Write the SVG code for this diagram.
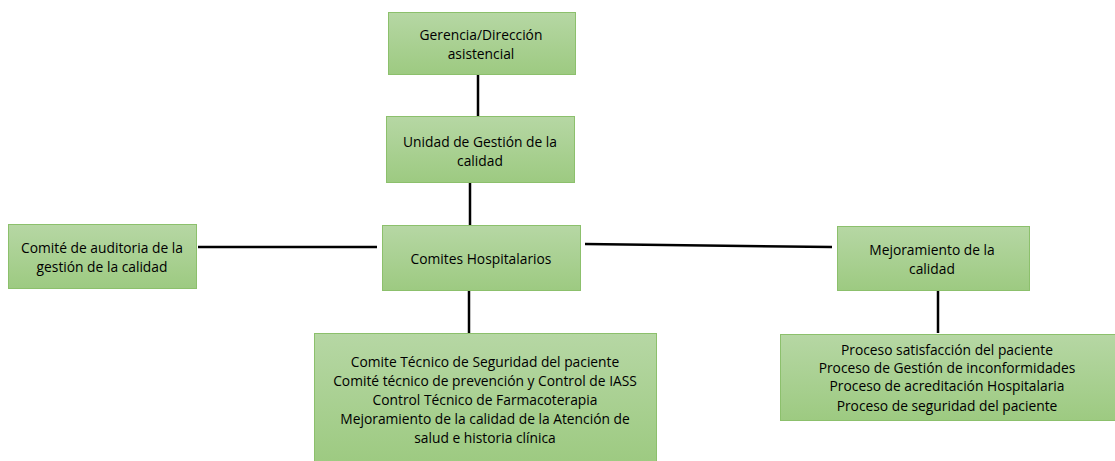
<svg xmlns="http://www.w3.org/2000/svg" width="1115" height="461" viewBox="0 0 1115 461">
<defs>
<linearGradient id="g" x1="0" y1="0" x2="0" y2="1">
<stop offset="0" stop-color="#b6d7a4"/>
<stop offset="1" stop-color="#9dca81"/>
</linearGradient>
<style>
.box{fill:url(#g);stroke:#8cc06c;stroke-width:1}
.t{font-family:"Open Sans","Liberation Sans",sans-serif;font-size:13.8px;fill:#000;text-anchor:middle}
.c{stroke:#000;stroke-width:2.5;fill:none}
</style>
</defs>
<rect width="1115" height="461" fill="#fff"/>
<g id="connectors">
<line class="c" x1="478" y1="74" x2="478" y2="116"/>
<line class="c" x1="470" y1="182" x2="470" y2="225"/>
<line class="c" x1="198" y1="247" x2="377" y2="247"/>
<line class="c" x1="585" y1="244" x2="832" y2="247"/>
<line class="c" x1="469" y1="290" x2="469" y2="333"/>
<line class="c" x1="938" y1="290" x2="938" y2="333"/>
</g>
<g id="gerencia">
<rect class="box" x="388.5" y="12.5" width="187" height="62"/>
<text class="t" x="481" y="40">Gerencia/Dirección</text>
<text class="t" x="481" y="59">asistencial</text>
</g>
<g id="unidad">
<rect class="box" x="386.5" y="116.5" width="188" height="66"/>
<text class="t" x="480" y="147">Unidad de Gestión de la</text>
<text class="t" x="480" y="166">calidad</text>
</g>
<g id="auditoria">
<rect class="box" x="8.5" y="224.5" width="188" height="64"/>
<text class="t" x="102" y="253">Comité de auditoria de la</text>
<text class="t" x="102" y="272">gestión de la calidad</text>
</g>
<g id="comites">
<rect class="box" x="382.5" y="225.5" width="198" height="65"/>
<text class="t" x="481" y="264">Comites Hospitalarios</text>
</g>
<g id="mejoramiento">
<rect class="box" x="837.5" y="226.5" width="192" height="64"/>
<text class="t" x="932" y="255">Mejoramiento de la</text>
<text class="t" x="932" y="274">calidad</text>
</g>
<g id="comites-lista">
<rect class="box" x="314.5" y="333.5" width="342" height="130"/>
<text class="t" x="485" y="367">Comite Técnico de Seguridad del paciente</text>
<text class="t" x="485" y="386">Comité técnico de prevención y Control de IASS</text>
<text class="t" x="485" y="405">Control Técnico de Farmacoterapia</text>
<text class="t" x="485" y="424">Mejoramiento de la calidad de la Atención de</text>
<text class="t" x="485" y="443">salud e historia clínica</text>
</g>
<g id="procesos">
<rect class="box" x="780.5" y="334.5" width="336" height="86"/>
<text class="t" x="947" y="355">Proceso satisfacción del paciente</text>
<text class="t" x="947" y="373">Proceso de Gestión de inconformidades</text>
<text class="t" x="947" y="391">Proceso de acreditación Hospitalaria</text>
<text class="t" x="947" y="411">Proceso de seguridad del paciente</text>
</g>
</svg>
